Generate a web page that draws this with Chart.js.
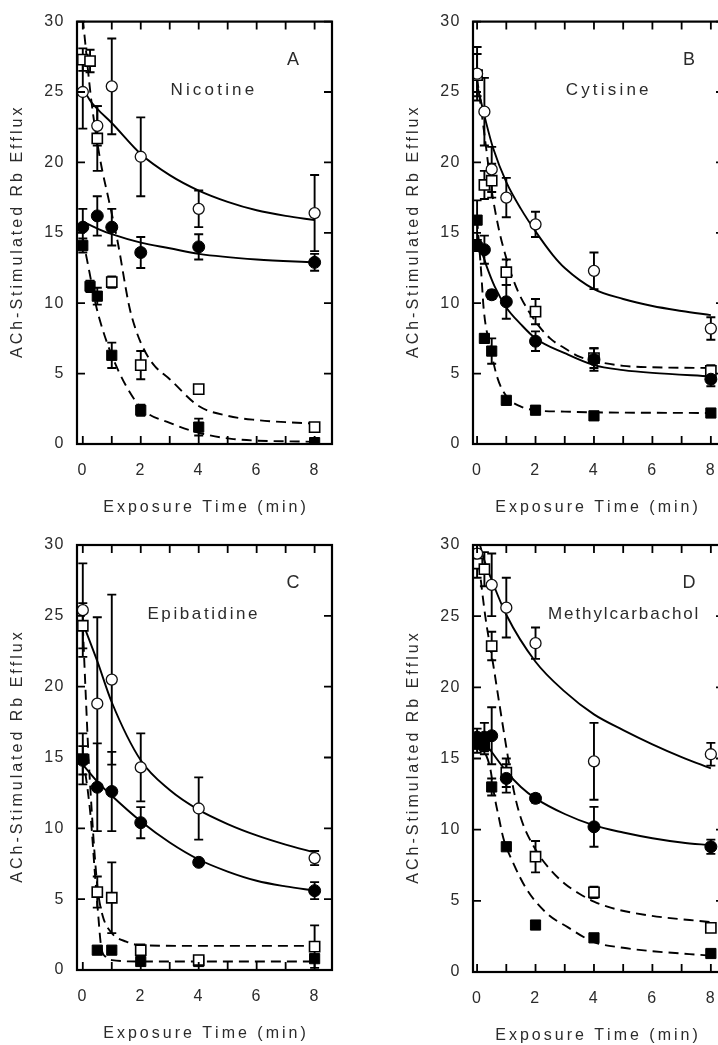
<!DOCTYPE html>
<html>
<head>
<meta charset="utf-8">
<script src="https://cdn.jsdelivr.net/npm/chart.js@4.4.0/dist/chart.umd.min.js"></script>
<style>
  html, body { margin: 0; padding: 0; background: #fff; width: 718px; height: 1045px; overflow: hidden; }
  canvas { position: absolute; }
</style>
</head>
<body>
<canvas id="panelA"></canvas>
<canvas id="panelB"></canvas>
<canvas id="panelC"></canvas>
<canvas id="panelD"></canvas>
<script>
// sampling times (min), shared by every series; null = no point at that time
const exposureTimes = [0, 0.25, 0.5, 1, 2, 4, 8];
const xTicks = [0, 2, 4, 6, 8];
const xTickMarks = [0, 1, 2, 3, 4, 5, 6, 7, 8];
const yTicks = [0, 5, 10, 15, 20, 25, 30];

// A - Nicotine
const nicOpenCircle = [25.0, null, 22.6, 25.4, 20.4, 16.7, 16.4];
const nicOpenCircleErr = [2.6, null, 1.4, 3.4, 2.8, 1.3, 2.7];
const nicFilledCircle = [15.4, null, 16.2, 15.4, 13.6, 14.0, 12.9];
const nicFilledCircleErr = [1.3, null, 1.4, 1.3, 1.1, 0.9, 0.6];
const nicOpenSquare = [27.3, 27.2, 21.7, 11.5, 5.6, 3.9, 1.2];
const nicOpenSquareErr = [0.8, 0.8, 2.3, 0.4, 1.0, 0.3, 0.3];
const nicFilledSquare = [14.1, 11.2, 10.5, 6.3, 2.4, 1.2, 0.1];
const nicFilledSquareErr = [0.5, 0.4, 0.6, 0.9, 0.4, 0.6, 0.1];
// fitted lines, points
const nicOpenCircleFitX = [0, 0.25, 0.5, 1, 2, 3, 4, 5, 6, 7, 8];
const nicOpenCircleFitY = [25.3, 24.4, 23.8, 22.8, 20.6, 19.1, 18.0, 17.2, 16.6, 16.2, 15.9];
const nicFilledCircleFitX = [0, 0.5, 1, 2, 3, 4, 6, 8];
const nicFilledCircleFitY = [15.8, 15.3, 14.9, 14.3, 13.9, 13.5, 13.1, 12.9];
const nicOpenSquareFitX = [0, 0.3, 0.6, 0.9, 1.2, 1.6, 1.8, 2, 2.25, 2.5, 3, 4, 5, 6, 7, 8];
const nicOpenSquareFitY = [30.2, 24.3, 20.2, 17.3, 14.4, 9.8, 8.3, 7.2, 6.2, 5.5, 4.6, 2.7, 2.0, 1.7, 1.55, 1.45];
const nicFilledSquareFitX = [0, 0.23, 0.46, 0.69, 1, 1.5, 2.07, 3, 4, 5.2, 8];
const nicFilledSquareFitY = [14.6, 12.2, 9.8, 8.1, 6.3, 4.1, 2.45, 1.5, 0.8, 0.35, 0.15];

// B - Cytisine
const cytOpenCircle = [26.3, 23.6, 19.5, 17.5, 15.6, 12.3, 8.2];
const cytOpenCircleErr = [1.9, 2.4, 1.6, 1.4, 0.9, 1.3, 0.8];
const cytFilledCircle = [14.1, 13.8, 10.6, 10.1, 7.3, 6.0, 4.6];
const cytFilledCircleErr = [0.4, 1.0, 0.3, 1.2, 0.7, 0.8, 0.5];
const cytOpenSquare = [26.2, 18.4, 18.7, 12.2, 9.4, 6.1, 5.2];
const cytOpenSquareErr = [1.5, 1.0, 1.2, 0.9, 0.9, 0.7, 0.4];
const cytFilledSquare = [15.9, 7.5, 6.6, 3.1, 2.4, 2.0, 2.2];
const cytFilledSquareErr = [1.4, 0.3, 0.9, 0.2, 0.2, 0.2, 0.2];
const cytOpenCircleFitX = [0, 0.3, 0.55, 1, 1.5, 2, 2.6, 3, 4, 5, 6, 7, 8];
const cytOpenCircleFitY = [25.5, 22.9, 21.0, 18.6, 16.7, 15.1, 13.4, 12.5, 11.0, 10.3, 9.8, 9.45, 9.15];
const cytFilledCircleFitX = [0, 0.2, 0.33, 0.6, 1, 1.5, 2, 3, 4, 5, 6, 8];
const cytFilledCircleFitY = [14.3, 13.4, 12.6, 11.2, 9.7, 8.5, 7.5, 6.45, 5.6, 5.25, 5.05, 4.8];
const cytOpenSquareFitX = [0, 0.25, 0.5, 0.75, 1, 1.25, 1.5, 2, 2.5, 3, 3.5, 4, 5, 6, 8];
const cytOpenSquareFitY = [26.0, 22.0, 18.0, 15.2, 13.2, 11.6, 10.4, 8.7, 7.5, 6.8, 6.2, 5.9, 5.55, 5.45, 5.4];
const cytFilledSquareFitX = [0, 0.14, 0.23, 0.45, 0.68, 1, 1.5, 2, 3, 4, 8];
const cytFilledSquareFitY = [16.0, 12.2, 9.5, 6.9, 4.8, 3.4, 2.65, 2.4, 2.3, 2.25, 2.2];

// C - Epibatidine
const epiOpenCircle = [25.4, null, 18.8, 20.5, 14.3, 11.4, 7.9];
const epiOpenCircleErr = [3.3, null, 6.1, 6.0, 2.4, 2.2, 0.5];
const epiFilledCircle = [14.8, null, 12.9, 12.6, 10.4, 7.6, 5.6];
const epiFilledCircleErr = [1.0, null, 3.1, 2.8, 1.1, 0.2, 0.6];
const epiOpenSquare = [24.3, null, 5.5, 5.1, 1.4, 0.7, 1.65];
const epiOpenSquareErr = [1.6, null, 1.1, 2.5, 0.4, 0.2, 1.5];
const epiFilledSquare = [14.9, null, 1.4, 1.4, 0.6, 0.6, 0.8];
const epiFilledSquareErr = [1.8, null, 0.1, 0.1, 0.1, 0.1, 0.1];
const epiOpenCircleFitX = [0, 0.5, 1, 2, 3, 4, 5, 6, 7, 8];
const epiOpenCircleFitY = [24.5, 21.8, 18.9, 14.8, 12.7, 11.3, 10.3, 9.5, 8.85, 8.3];
const epiFilledCircleFitX = [0, 0.5, 1, 2, 3, 4, 5, 6, 7, 8];
const epiFilledCircleFitY = [14.5, 13.3, 12.3, 10.5, 9.0, 7.8, 6.95, 6.3, 5.9, 5.6];
const epiOpenSquareFitX = [0, 0.1, 0.2, 0.3, 0.4, 0.52, 0.69, 1, 1.5, 2, 4, 8];
const epiOpenSquareFitY = [24.3, 19.5, 15.0, 11.5, 8.4, 5.6, 3.8, 2.6, 2.0, 1.75, 1.7, 1.7];
const epiFilledSquareFitX = [0, 0.17, 0.29, 0.4, 0.52, 0.63, 0.8, 1, 2, 8];
const epiFilledSquareFitY = [15.0, 12.7, 10.4, 7.3, 4.2, 1.7, 0.9, 0.7, 0.6, 0.6];

// D - Methylcarbachol
const mcOpenCircle = [29.4, null, 27.2, 25.6, 23.1, 14.8, 15.3];
const mcOpenCircleErr = [0.8, null, 2.2, 2.1, 1.1, 2.7, 0.8];
const mcFilledCircle = [16.5, 16.5, 16.6, 13.6, 12.2, 10.2, 8.8];
const mcFilledCircleErr = [0.6, 1.0, 2.0, 1.0, 0.3, 1.4, 0.5];
const mcOpenSquare = [28.7, 28.3, 22.9, 14.0, 8.1, 5.6, 3.1];
const mcOpenSquareErr = [1.0, 1.2, 1.0, 1.0, 1.1, 0.4, 0.25];
const mcFilledSquare = [16.0, 15.9, 13.0, 8.8, 3.3, 2.4, 1.3];
const mcFilledSquareErr = [0.6, 0.6, 0.6, 0.1, 0.1, 0.1, 0.1];
const mcOpenCircleFitX = [0, 0.22, 0.45, 1, 2, 3, 4, 5, 6, 7, 8];
const mcOpenCircleFitY = [30.8, 29.1, 27.8, 25.1, 21.8, 19.7, 18.1, 17.0, 16.0, 15.1, 14.3];
const mcFilledCircleFitX = [0, 0.45, 1, 1.5, 2, 3, 4, 5, 6, 7, 8];
const mcFilledCircleFitY = [16.8, 15.6, 14.1, 13.0, 12.2, 11.1, 10.3, 9.8, 9.4, 9.1, 8.9];
const mcOpenSquareFitX = [0, 0.28, 0.56, 0.75, 1, 1.25, 1.5, 2, 2.5, 3, 3.5, 4, 4.6, 5.8, 8];
const mcOpenSquareFitY = [29.8, 25.0, 21.5, 19.0, 15.8, 12.8, 10.8, 8.6, 7.2, 6.2, 5.5, 4.95, 4.5, 4.0, 3.5];
const mcFilledSquareFitX = [0, 0.25, 0.45, 0.6, 0.75, 0.9, 1.25, 1.7, 2.4, 3.1, 4, 5, 5.8, 8];
const mcFilledSquareFitY = [16.2, 15.5, 14.3, 12.3, 10.8, 9.4, 7.6, 5.8, 4.1, 3.15, 2.1, 1.7, 1.5, 1.15];

const FONT = 'Liberation Sans, Arial, Helvetica, sans-serif';
const TEXT = '#2b2b2b';

function pts(values, errs) {
  const out = [];
  values.forEach((v, i) => {
    if (v !== null) out.push({ x: exposureTimes[i], y: v, err: errs[i] });
  });
  return out;
}
function curve(xs, ys) {
  return xs.map((x, i) => ({ x: x, y: ys[i] }));
}

const markerStyles = {
  openCircle: { pointStyle: 'circle', pointRadius: 5.5, pointBackgroundColor: '#fff', pointBorderColor: '#111', pointBorderWidth: 1.3 },
  filledCircle: { pointStyle: 'circle', pointRadius: 6, pointBackgroundColor: '#000', pointBorderColor: '#000', pointBorderWidth: 1 },
  openSquare: { pointStyle: 'rect', pointRadius: 7.2, pointBackgroundColor: '#fff', pointBorderColor: '#000', pointBorderWidth: 1.6 },
  filledSquare: { pointStyle: 'rect', pointRadius: 7.2, pointBackgroundColor: '#000', pointBorderColor: '#000', pointBorderWidth: 1 }
};

function markerSet(data, style) {
  return Object.assign({ data: data, showLine: false, order: 0, pointHoverRadius: style.pointRadius }, style);
}
function fitLine(data, dashed) {
  return {
    data: data, showLine: true, order: 1, pointRadius: 0, pointHoverRadius: 0,
    borderColor: '#000', borderWidth: 1.9, borderDash: dashed ? [10, 6] : [],
    cubicInterpolationMode: 'monotone', fill: false
  };
}

// draws text with extra spacing between letters, centred on (cx, cy)
function spacedText(ctx, text, cx, cy, spacing, angle) {
  ctx.save();
  ctx.translate(cx, cy);
  if (angle) ctx.rotate(angle);
  ctx.textAlign = 'left';
  ctx.textBaseline = 'middle';
  const widths = Array.from(text).map(ch => ctx.measureText(ch).width);
  const total = widths.reduce((a, b) => a + b, 0) + spacing * (text.length - 1);
  let x = -total / 2;
  Array.from(text).forEach((ch, i) => {
    ctx.fillText(ch, x, 0);
    x += widths[i] + spacing;
  });
  ctx.restore();
}

const panelDecor = {
  id: 'panelDecor',
  beforeDraw(chart) {
    if ('letterSpacing' in chart.ctx) chart.ctx.letterSpacing = '1.5px';
  },
  beforeDatasetsDraw(chart) {
    const ctx = chart.ctx, a = chart.chartArea;
    const xs = chart.scales.x, ys = chart.scales.y;
    ctx.save();
    ctx.beginPath();
    ctx.rect(a.left, a.top, a.right - a.left, a.bottom - a.top);
    ctx.clip();
    ctx.strokeStyle = '#000';
    ctx.lineWidth = 1.9;
    chart.data.datasets.forEach(ds => {
      if (ds.showLine) return;
      ds.data.forEach(p => {
        if (!p.err) return;
        const px = xs.getPixelForValue(p.x);
        const hi = ys.getPixelForValue(p.y + p.err);
        const lo = ys.getPixelForValue(Math.max(0, p.y - p.err));
        ctx.beginPath();
        ctx.moveTo(px, hi); ctx.lineTo(px, lo);
        ctx.moveTo(px - 4.5, hi); ctx.lineTo(px + 4.5, hi);
        ctx.moveTo(px - 4.5, lo); ctx.lineTo(px + 4.5, lo);
        ctx.stroke();
      });
    });
    ctx.restore();
  },
  afterDraw(chart, args, opts) {
    const ctx = chart.ctx, a = chart.chartArea;
    const xs = chart.scales.x, ys = chart.scales.y;
    if ('letterSpacing' in ctx) ctx.letterSpacing = '0px';
    ctx.save();
    ctx.strokeStyle = '#000';
    ctx.lineWidth = 2.2;
    ctx.strokeRect(a.left, a.top, a.right - a.left, a.bottom - a.top);
    ctx.lineWidth = 1.8;
    ctx.beginPath();
    xTickMarks.forEach(v => {
      const px = xs.getPixelForValue(v);
      ctx.moveTo(px, a.bottom); ctx.lineTo(px, a.bottom - 8);
      ctx.moveTo(px, a.top); ctx.lineTo(px, a.top + 8);
    });
    yTicks.forEach(v => {
      const py = ys.getPixelForValue(v);
      ctx.moveTo(a.left, py); ctx.lineTo(a.left + 8, py);
      ctx.moveTo(a.right, py); ctx.lineTo(a.right - 8, py);
    });
    ctx.stroke();

    ctx.fillStyle = TEXT;
    ctx.font = '16px ' + FONT;
    spacedText(ctx, 'Exposure Time (min)', (a.left + a.right) / 2 - opts.xTitleShift, a.bottom + 64, 3);
    spacedText(ctx, 'ACh-Stimulated Rb Efflux', a.left - 59, (a.top + a.bottom) / 2, 3, -Math.PI / 2);
    ctx.font = '18px ' + FONT;
    spacedText(ctx, opts.letter, xs.getPixelForValue(7.25), ys.getPixelForValue(27.3), 0);
    ctx.font = '17px ' + FONT;
    spacedText(ctx, opts.name, xs.getPixelForValue(opts.nameX), ys.getPixelForValue(25.1), opts.nameSpacing);
    ctx.restore();
  }
};

const panels = [
  { id: 'panelA', left: 0, top: 0, width: 359, height: 522, chartLeft: 77, chartTop: 20, chartRight: 332, chartBottom: 444,
    xMin: -0.2, xMax: 8.6, letter: 'A', name: 'Nicotine', nameX: 4.47, nameSpacing: 3.2, xTitleShift: 0,
    sets: [
      markerSet(pts(nicOpenCircle, nicOpenCircleErr), markerStyles.openCircle),
      markerSet(pts(nicFilledCircle, nicFilledCircleErr), markerStyles.filledCircle),
      markerSet(pts(nicOpenSquare, nicOpenSquareErr), markerStyles.openSquare),
      markerSet(pts(nicFilledSquare, nicFilledSquareErr), markerStyles.filledSquare),
      fitLine(curve(nicOpenCircleFitX, nicOpenCircleFitY), false),
      fitLine(curve(nicFilledCircleFitX, nicFilledCircleFitY), false),
      fitLine(curve(nicOpenSquareFitX, nicOpenSquareFitY), true),
      fitLine(curve(nicFilledSquareFitX, nicFilledSquareFitY), true)
    ] },
  { id: 'panelB', left: 359, top: 0, width: 380, height: 522, chartLeft: 114, chartTop: 20, chartRight: 365, chartBottom: 444,
    xMin: -0.14, xMax: 8.45, letter: 'B', name: 'Cytisine', nameX: 4.45, nameSpacing: 3.2, xTitleShift: 2,
    sets: [
      markerSet(pts(cytOpenCircle, cytOpenCircleErr), markerStyles.openCircle),
      markerSet(pts(cytFilledCircle, cytFilledCircleErr), markerStyles.filledCircle),
      markerSet(pts(cytOpenSquare, cytOpenSquareErr), markerStyles.openSquare),
      markerSet(pts(cytFilledSquare, cytFilledSquareErr), markerStyles.filledSquare),
      fitLine(curve(cytOpenCircleFitX, cytOpenCircleFitY), false),
      fitLine(curve(cytFilledCircleFitX, cytFilledCircleFitY), false),
      fitLine(curve(cytOpenSquareFitX, cytOpenSquareFitY), true),
      fitLine(curve(cytFilledSquareFitX, cytFilledSquareFitY), true)
    ] },
  { id: 'panelC', left: 0, top: 522, width: 359, height: 523, chartLeft: 77, chartTop: 23, chartRight: 332, chartBottom: 448,
    xMin: -0.2, xMax: 8.6, letter: 'C', name: 'Epibatidine', nameX: 4.13, nameSpacing: 2.6, xTitleShift: 0,
    sets: [
      markerSet(pts(epiOpenCircle, epiOpenCircleErr), markerStyles.openCircle),
      markerSet(pts(epiFilledCircle, epiFilledCircleErr), markerStyles.filledCircle),
      markerSet(pts(epiOpenSquare, epiOpenSquareErr), markerStyles.openSquare),
      markerSet(pts(epiFilledSquare, epiFilledSquareErr), markerStyles.filledSquare),
      fitLine(curve(epiOpenCircleFitX, epiOpenCircleFitY), false),
      fitLine(curve(epiFilledCircleFitX, epiFilledCircleFitY), false),
      fitLine(curve(epiOpenSquareFitX, epiOpenSquareFitY), true),
      fitLine(curve(epiFilledSquareFitX, epiFilledSquareFitY), true)
    ] },
  { id: 'panelD', left: 359, top: 522, width: 380, height: 523, chartLeft: 114, chartTop: 23, chartRight: 365, chartBottom: 450,
    xMin: -0.14, xMax: 8.45, letter: 'D', name: 'Methylcarbachol', nameX: 5.0, nameSpacing: 1.9, xTitleShift: 2,
    sets: [
      markerSet(pts(mcOpenCircle, mcOpenCircleErr), markerStyles.openCircle),
      markerSet(pts(mcFilledCircle, mcFilledCircleErr), markerStyles.filledCircle),
      markerSet(pts(mcOpenSquare, mcOpenSquareErr), markerStyles.openSquare),
      markerSet(pts(mcFilledSquare, mcFilledSquareErr), markerStyles.filledSquare),
      fitLine(curve(mcOpenCircleFitX, mcOpenCircleFitY), false),
      fitLine(curve(mcFilledCircleFitX, mcFilledCircleFitY), false),
      fitLine(curve(mcOpenSquareFitX, mcOpenSquareFitY), true),
      fitLine(curve(mcFilledSquareFitX, mcFilledSquareFitY), true)
    ] }
];

panels.forEach(p => {
  const canvas = document.getElementById(p.id);
  canvas.width = p.width;
  canvas.height = p.height;
  canvas.style.left = p.left + 'px';
  canvas.style.top = p.top + 'px';
  canvas.style.width = p.width + 'px';
  canvas.style.height = p.height + 'px';

  new Chart(canvas.getContext('2d'), {
    type: 'scatter',
    data: { datasets: p.sets },
    plugins: [panelDecor],
    options: {
      responsive: false,
      animation: false,
      devicePixelRatio: 1,
      layout: { padding: { top: p.chartTop, right: p.width - p.chartRight, left: 0, bottom: 0 } },
      plugins: {
        legend: { display: false },
        tooltip: { enabled: false },
        panelDecor: { letter: p.letter, name: p.name, nameX: p.nameX, nameSpacing: p.nameSpacing, xTitleShift: p.xTitleShift }
      },
      scales: {
        x: {
          type: 'linear', min: p.xMin, max: p.xMax,
          grid: { display: false, drawTicks: false },
          border: { display: false },
          afterBuildTicks: s => { s.ticks = xTicks.map(v => ({ value: v })); },
          afterFit: s => { s.height = p.height - p.chartBottom; },
          ticks: { color: TEXT, font: { family: FONT, size: 16 }, padding: 17, maxRotation: 0 }
        },
        y: {
          type: 'linear', min: 0, max: 30,
          grid: { display: false, drawTicks: false },
          border: { display: false },
          afterBuildTicks: s => { s.ticks = yTicks.map(v => ({ value: v })); },
          afterFit: s => { s.width = p.chartLeft; },
          ticks: { color: TEXT, font: { family: FONT, size: 16 }, padding: 12 }
        }
      }
    }
  });
});
</script>
</body>
</html>
